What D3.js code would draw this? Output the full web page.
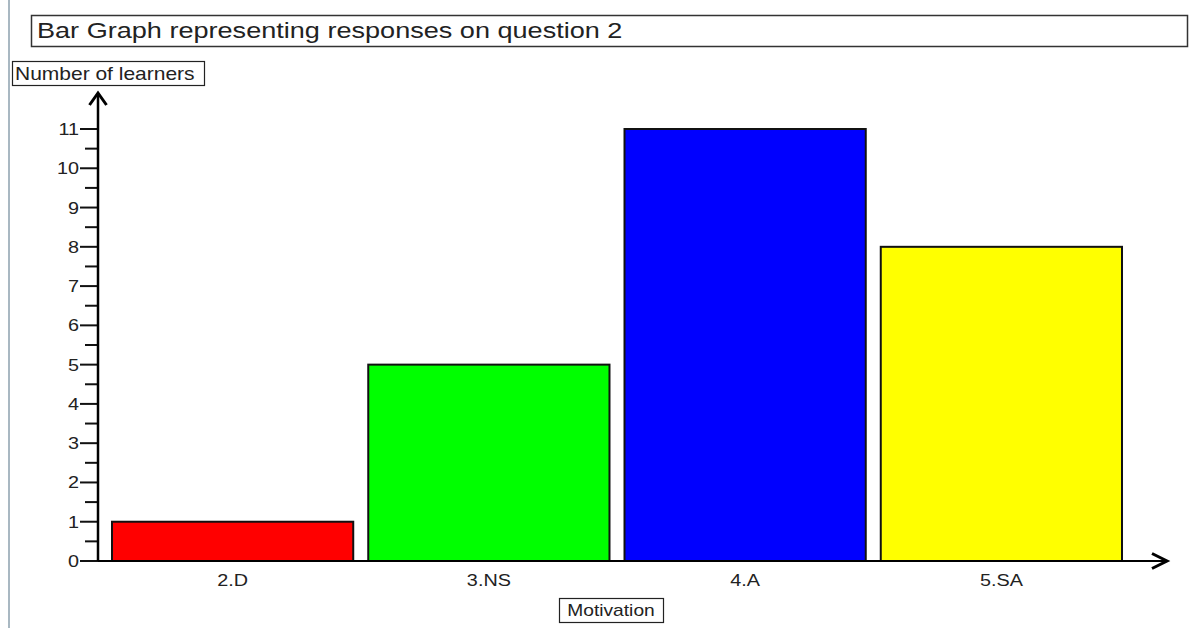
<!DOCTYPE html>
<meta charset="utf-8">
<style>
    body {margin: 0; background: #fff; font-family: 'Liberation Sans', Arial, sans-serif;}
</style>
<svg width="1203" height="628"></svg>
<script src="https://cdn.jsdelivr.net/npm/d3@7"></script>
<script>

var categories = ["2.D", "3.NS", "4.A", "5.SA"];
var learners = [1, 5, 11, 8];
var barColors = ["#ff0000", "#00ff00", "#0000ff", "#ffff00"];
var majorTicks = [0, 1, 2, 3, 4, 5, 6, 7, 8, 9, 10, 11];
var minorTicks = [0.5, 1.5, 2.5, 3.5, 4.5, 5.5, 6.5, 7.5, 8.5, 9.5, 10.5];

var svg = d3.select("svg"),
    width = +svg.attr("width"),
    height = +svg.attr("height");

var x0 = 98, y0 = 561;

var x = d3.scaleBand()
    .domain(categories)
    .range([112, 1122])
    .paddingInner(15 / 256)
    .paddingOuter(0);

var y = d3.scaleLinear()
    .domain([0, 11])
    .range([y0, 129]);

// the source picture is a bit stretched sideways, so text is too
function label(parent, tx, ty, str, size, anchor, sx) {
  return parent.append("text")
      .attr("transform", "translate(" + tx + "," + ty + ") scale(" + sx + ",1)")
      .attr("text-anchor", anchor)
      .style("font-size", size + "px")
      .style("fill", "#222")
      .text(str);
}

// thin border on the left edge of the screenshot
svg.append("line")
    .attr("x1", 9).attr("x2", 9)
    .attr("y1", 0).attr("y2", height)
    .style("stroke", "#a9b8c2")
    .style("stroke-width", 2);

// title box
svg.append("rect")
    .attr("x", 31.5).attr("y", 15.5)
    .attr("width", 1156).attr("height", 31)
    .style("fill", "#fff").style("stroke", "#333").style("stroke-width", 1.5);
label(svg, 37, 38, "Bar Graph representing responses on question 2", 21.5, "start", 1.26);

// y label box
svg.append("rect")
    .attr("x", 12.5).attr("y", 61.5)
    .attr("width", 192).attr("height", 24)
    .style("fill", "#fff").style("stroke", "#222").style("stroke-width", 1.2);
label(svg, 15, 80, "Number of learners", 17.5, "start", 1.2);

// bars
svg.append("g")
    .selectAll("rect")
    .data(learners)
    .enter().append("rect")
    .attr("x", function(d, i) { return x(categories[i]); })
    .attr("y", function(d) { return y(d); })
    .attr("width", x.bandwidth())
    .attr("height", function(d) { return y0 - y(d); })
    .style("fill", function(d, i) { return barColors[i]; })
    .style("stroke", "#111")
    .style("stroke-width", 2);

// y axis ticks
var yg = svg.append("g").attr("transform", "translate(" + x0 + ",0)");
yg.selectAll("line.major")
    .data(majorTicks)
    .enter().append("line")
    .attr("class", "major")
    .attr("x1", -18).attr("x2", 0)
    .attr("y1", function(d) { return y(d); })
    .attr("y2", function(d) { return y(d); })
    .style("stroke", "#111").style("stroke-width", 2);
yg.selectAll("line.minor")
    .data(minorTicks)
    .enter().append("line")
    .attr("class", "minor")
    .attr("x1", -13).attr("x2", 0)
    .attr("y1", function(d) { return y(d); })
    .attr("y2", function(d) { return y(d); })
    .style("stroke", "#111").style("stroke-width", 2);
majorTicks.forEach(function(d) {
  label(yg, -19, y(d) + 6, d, 16.5, "end", 1.2);
});

// axes with arrows
svg.append("line")
    .attr("x1", x0).attr("x2", x0)
    .attr("y1", y0).attr("y2", 93)
    .style("stroke", "#000").style("stroke-width", 2.5);
svg.append("path")
    .attr("d", "M" + (x0 - 8.5) + ",105 L" + x0 + ",93 L" + (x0 + 8.5) + ",105")
    .style("fill", "none").style("stroke", "#000").style("stroke-width", 3);

svg.append("line")
    .attr("x1", x0).attr("x2", 1167)
    .attr("y1", y0).attr("y2", y0)
    .style("stroke", "#000").style("stroke-width", 2);
svg.append("path")
    .attr("d", "M1152," + (y0 - 7.5) + " L1167," + y0 + " L1152," + (y0 + 7.5))
    .style("fill", "none").style("stroke", "#000").style("stroke-width", 3);

// x labels
var xg = svg.append("g");
categories.forEach(function(c) {
  label(xg, x(c) + x.bandwidth() / 2, 586, c, 16.5, "middle", 1.2);
});

// x label box
svg.append("rect")
    .attr("x", 559.5).attr("y", 598.5)
    .attr("width", 104).attr("height", 24)
    .style("fill", "#fff").style("stroke", "#222").style("stroke-width", 1.2);
label(svg, 611, 616, "Motivation", 16, "middle", 1.2);

</script>
